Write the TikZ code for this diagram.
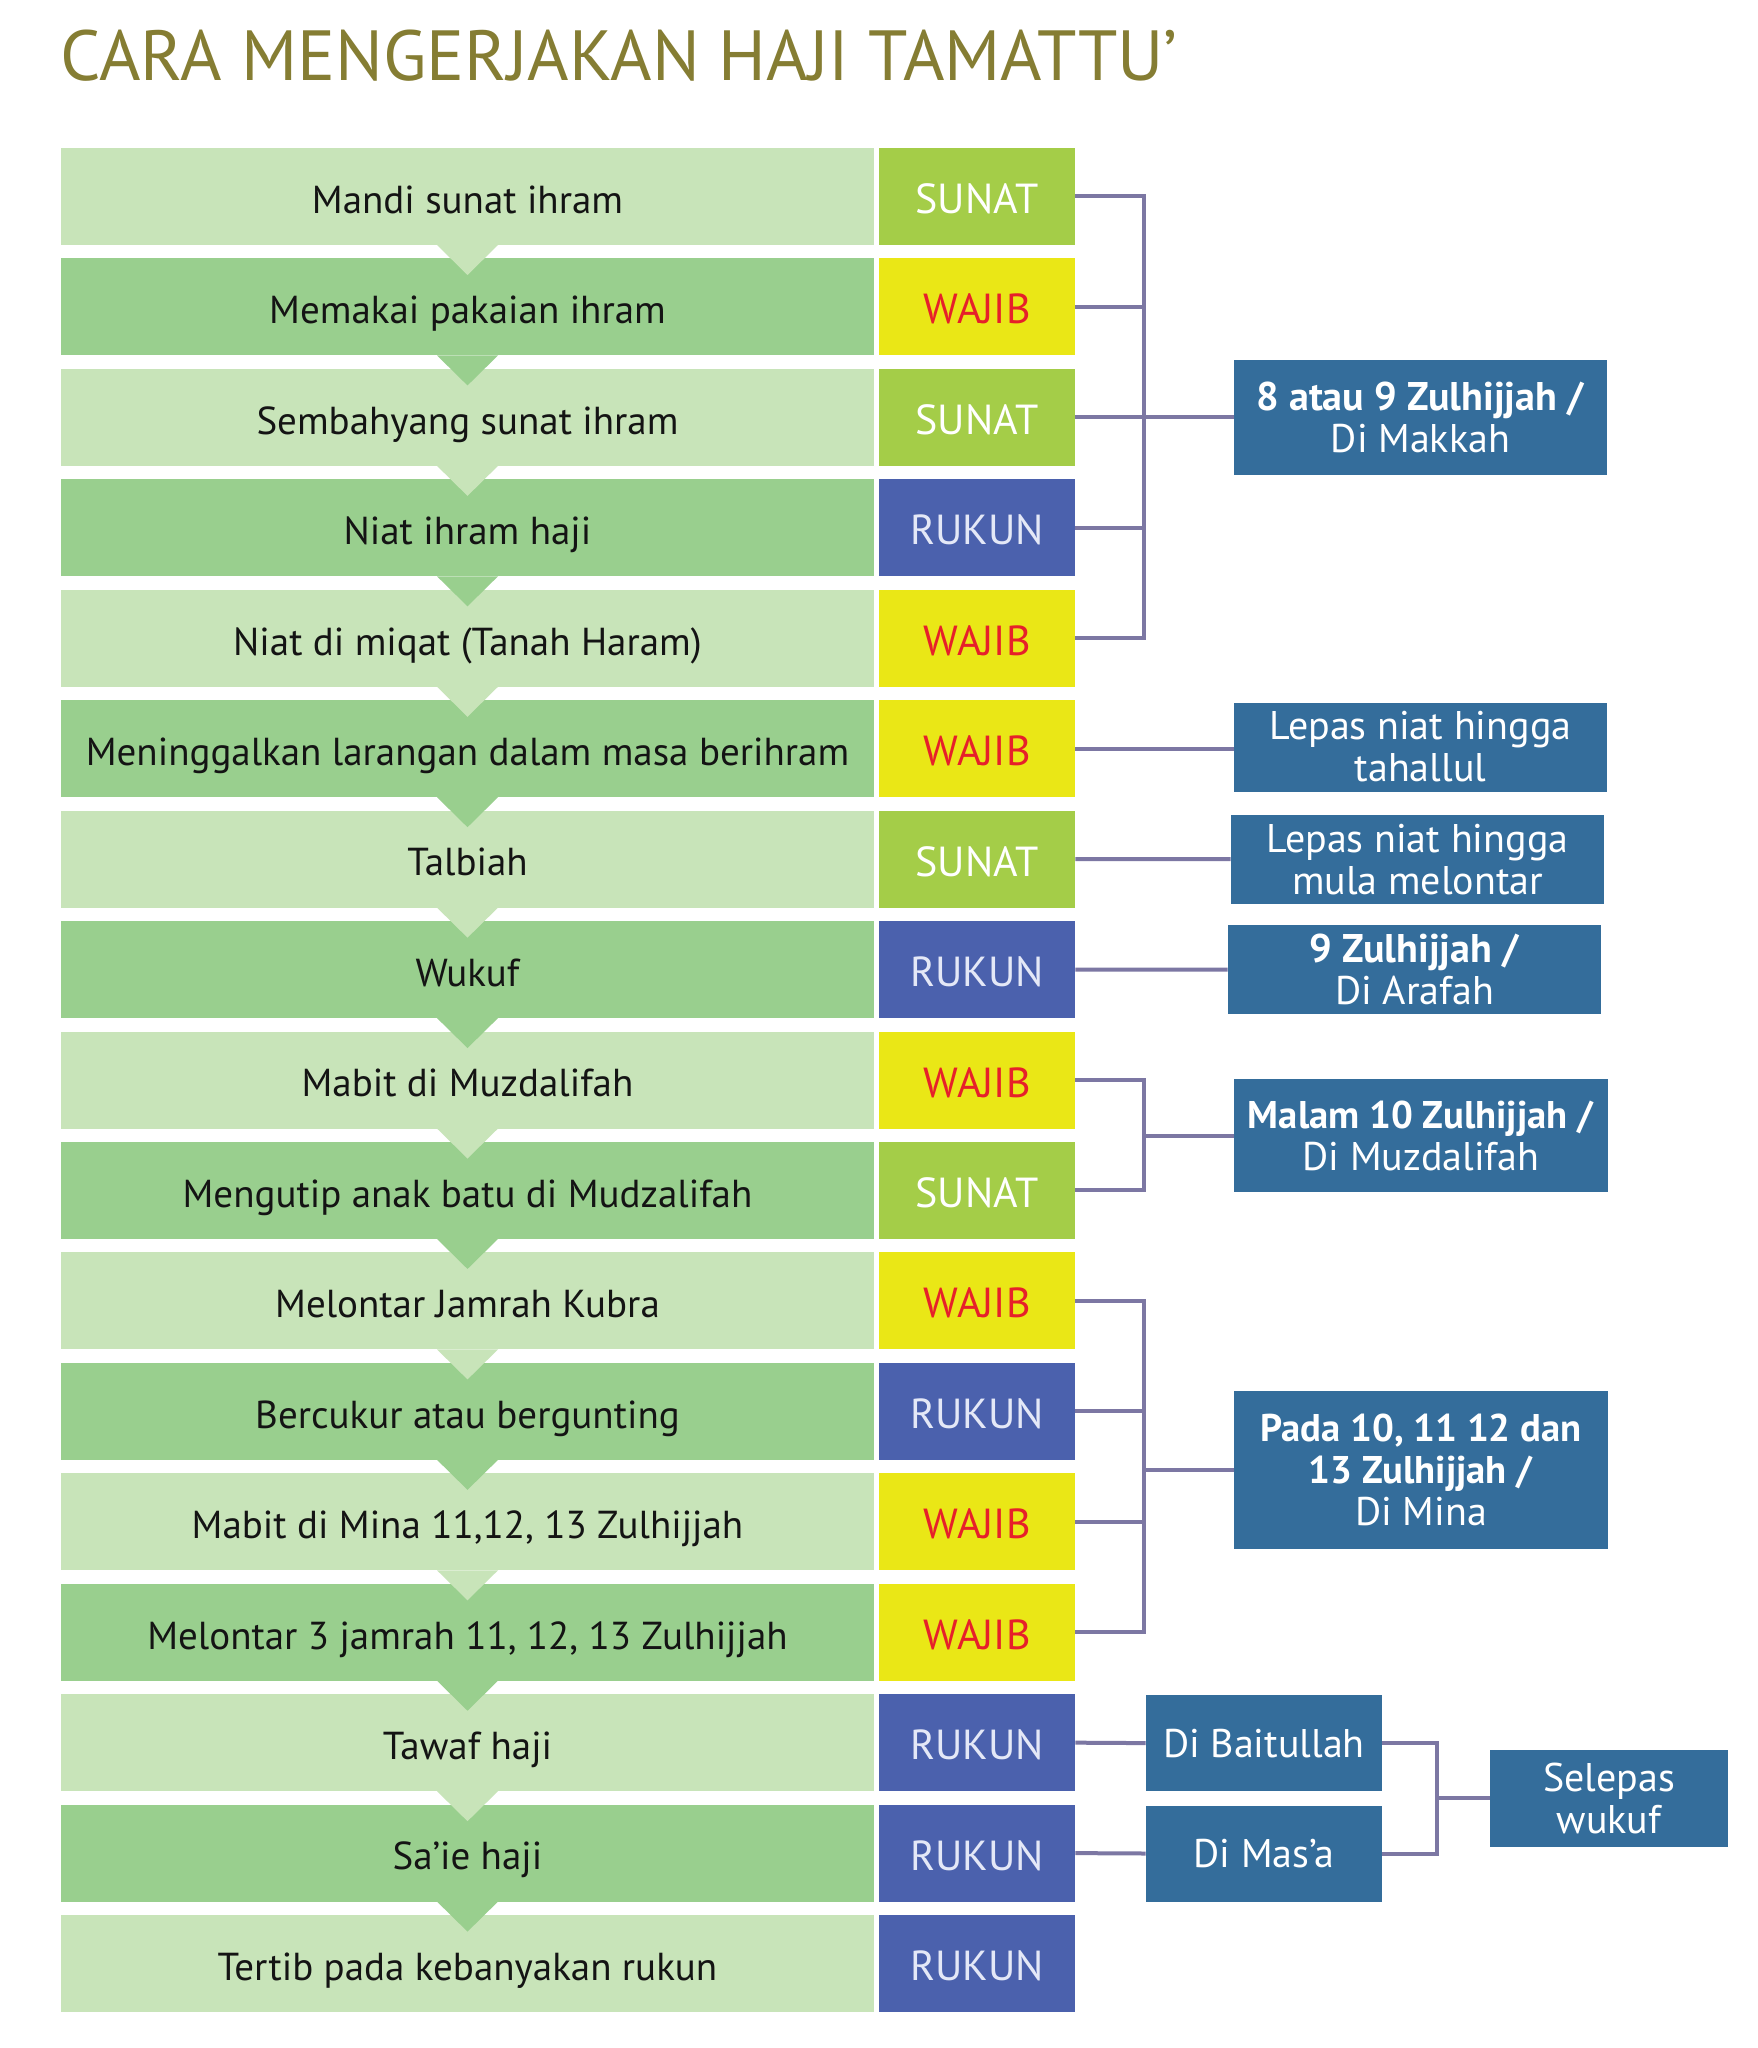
\documentclass[tikz,border=0pt]{standalone}
\usepackage{fontspec}
\setmainfont{PT Sans}
\definecolor{lightg}{HTML}{C8E4B9}
\definecolor{darkg}{HTML}{99CF8E}
\definecolor{sunatc}{HTML}{A4CD48}
\definecolor{wajibc}{HTML}{EAE716}
\definecolor{wajibt}{HTML}{E6202A}
\definecolor{rukunc}{HTML}{4B61AD}
\definecolor{rukunt}{HTML}{E4E8F7}
\definecolor{infoc}{HTML}{346D9B}
\definecolor{linec}{HTML}{7C77A3}
\definecolor{titlec}{HTML}{857D33}
\definecolor{txt}{HTML}{141414}
\tikzset{
  stepbox/.style={rectangle, inner sep=0pt, minimum width=406.5pt, minimum height=48.5pt, text height=16.8pt, text depth=0pt, text=txt, font=\fontsize{19.5}{22}\selectfont},
  lightrow/.style={stepbox, fill=lightg},
  darkrow/.style={stepbox, fill=darkg},
  badge/.style={rectangle, inner sep=0pt, minimum width=98pt, minimum height=48.5pt, text height=17pt, text depth=0pt, font=\fontsize{21}{24}\selectfont},
  sunatb/.style={badge, fill=sunatc, text=white},
  wajibb/.style={badge, fill=wajibc, text=wajibt},
  rukunb/.style={badge, fill=rukunc, text=rukunt},
  infobox/.style={rectangle, inner sep=0pt, fill=infoc, text=white, align=center, font=\fontsize{20}{21}\selectfont},
  conn/.style={draw=linec, line width=2pt, line join=miter},
}
\newcommand\hajirow[4]{%
  \pgfmathsetmacro\yc{196.5+(#1-1)*110.44}%
  \node[#3] (r#1) at (467.5,\yc) {#2};%
  \node[#4b] (b#1) at (977,\yc) {\MakeUppercase{#4}};%
}
\newcommand\hajitri[2]{%
  \pgfmathsetmacro\yt{245+(#1-1)*110.44}%
  \fill[#2] (437,\yt) -- (498,\yt) -- (467.5,\yt+30) -- cycle;%
}
\begin{document}
\begin{tikzpicture}[x=0.5pt,y=-0.5pt]
\useasboundingbox (0,0) rectangle (1757,2048);
\fill[white] (0,0) rectangle (1757,2048);
\node[anchor=base west, inner sep=0pt, text=titlec, font=\fontsize{35.5}{40}\selectfont] (title) at (60,81) {CARA MENGERJAKAN HAJI TAMATTU’};

\hajirow{1}{Mandi sunat ihram}{lightrow}{sunat}
\hajirow{2}{Memakai pakaian ihram}{darkrow}{wajib}
\hajirow{3}{Sembahyang sunat ihram}{lightrow}{sunat}
\hajirow{4}{Niat ihram haji}{darkrow}{rukun}
\hajirow{5}{Niat di miqat (Tanah Haram)}{lightrow}{wajib}
\hajirow{6}{Meninggalkan larangan dalam masa berihram}{darkrow}{wajib}
\hajirow{7}{Talbiah}{lightrow}{sunat}
\hajirow{8}{Wukuf}{darkrow}{rukun}
\hajirow{9}{Mabit di Muzdalifah}{lightrow}{wajib}
\hajirow{10}{Mengutip anak batu di Mudzalifah}{darkrow}{sunat}
\hajirow{11}{Melontar Jamrah Kubra}{lightrow}{wajib}
\hajirow{12}{Bercukur atau bergunting}{darkrow}{rukun}
\hajirow{13}{Mabit di Mina 11,12, 13 Zulhijjah}{lightrow}{wajib}
\hajirow{14}{Melontar 3 jamrah 11, 12, 13 Zulhijjah}{darkrow}{wajib}
\hajirow{15}{Tawaf haji}{lightrow}{rukun}
\hajirow{16}{Sa’ie haji}{darkrow}{rukun}
\hajirow{17}{Tertib pada kebanyakan rukun}{lightrow}{rukun}

\foreach \i in {1,3,5,7,9,11,13,15} {\hajitri{\i}{lightg}}
\foreach \i in {2,4,6,8,10,12,14,16} {\hajitri{\i}{darkg}}

% info boxes
\node[infobox, minimum width=186.5pt, minimum height=57.5pt] (i1) at (1420.5,417.4) {\textbf{8 atau 9 Zulhijjah /}\\Di Makkah};
\node[infobox, minimum width=186.5pt, minimum height=44.5pt] (i2) at (1420.5,747) {Lepas niat hingga\\tahallul};
\node[infobox, minimum width=186.5pt, minimum height=44.5pt] (i3) at (1417.5,859.1) {Lepas niat hingga\\mula melontar};
\node[infobox, minimum width=186.5pt, minimum height=44.5pt] (i4) at (1414.5,969.6) {\textbf{9 Zulhijjah /}\\Di Arafah};
\node[infobox, minimum width=187pt, minimum height=56.5pt] (i5) at (1421,1135.5) {{\fontsize{19.3}{21}\selectfont\textbf{Malam 10 Zulhijjah /}}\\Di Muzdalifah};
\node[infobox, minimum width=187pt, minimum height=79pt] (i6) at (1421,1470) {{\fontsize{19.3}{21}\selectfont\textbf{Pada 10, 11 12 dan}}\\{\fontsize{19.3}{21}\selectfont\textbf{13 Zulhijjah /}}\\Di Mina};
\node[infobox, minimum width=118pt, minimum height=48pt] (i7) at (1264,1743.1) {Di Baitullah};
\node[infobox, minimum width=118pt, minimum height=48pt] (i8) at (1264,1853.5) {Di Mas’a};
\node[infobox, minimum width=119pt, minimum height=48.5pt] (i9) at (1609,1798.3) {Selepas\\wukuf};

% connectors
\coordinate (k1) at (1144,417.4);
\draw[conn] (b1.east) -| (k1) |- (b5.east);
\draw[conn] (b2.east) -- (b2.east -| k1);
\draw[conn] (b3.east) -- (b3.east -| k1);
\draw[conn] (b4.east) -- (b4.east -| k1);
\draw[conn] (k1) -- (i1.west);

\draw[conn] (b6.east) -- (b6.east -| i2.west);
\draw[conn] (b7.east) -- (i3.west);
\draw[conn] (b8.east) -- (i4.west);

\coordinate (k2) at (1144,1135.5);
\draw[conn] (b9.east) -| (k2) |- (b10.east);
\draw[conn] (k2) -- (i5.west);

\coordinate (k3) at (1144,1470);
\draw[conn] (b11.east) -| (k3) |- (b14.east);
\draw[conn] (b12.east) -- (b12.east -| k3);
\draw[conn] (b13.east) -- (b13.east -| k3);
\draw[conn] (k3) -- (i6.west);

\draw[conn] (b15.east) -- (i7.west);
\draw[conn] (b16.east) -- (i8.west);
\coordinate (k4) at (1437,1798.3);
\draw[conn] (i7.east) -| (k4) |- (i8.east);
\draw[conn] (k4) -- (i9.west);
\end{tikzpicture}
\end{document}
